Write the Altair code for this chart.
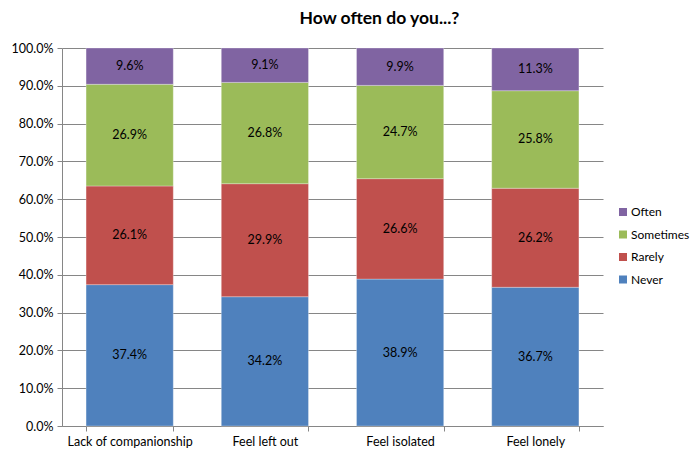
import altair as alt
import pandas as pd

items = ["Lack of companionship", "Feel left out", "Feel isolated", "Feel lonely"]
responses = ["Never", "Rarely", "Sometimes", "Often"]
colors = ["#4F81BD", "#C0504D", "#9BBB59", "#8064A2"]

never = [37.4, 34.2, 38.9, 36.7]
rarely = [26.1, 29.9, 26.6, 26.2]
sometimes = [26.9, 26.8, 24.7, 25.8]
often = [9.6, 9.1, 9.9, 11.3]

series = {"Never": never, "Rarely": rarely, "Sometimes": sometimes, "Often": often}
rows = []
for rank, resp in enumerate(responses):
    for item, val in zip(items, series[resp]):
        rows.append({"item": item, "response": resp, "rank": rank, "value": val})
df = pd.DataFrame(rows)

FONT = "Lato"

base = alt.Chart(df).transform_stack(
    stack="value",
    groupby=["item"],
    sort=[alt.SortField("rank", order="ascending")],
    as_=["y0", "y1"],
    offset="normalize",
).transform_calculate(
    ymid="(datum.y0 + datum.y1) / 2",
    label="format(datum.value, '.1f') + '%'",
)

x_axis = alt.Axis(
    labelAngle=0,
    tickBand="extent",
    tickSize=5,
    tickColor="#868686",
    domainColor="#868686",
    labelFont=FONT,
    labelFontSize=12.5,
    labelColor="#000000",
    labelPadding=4,
    grid=False,
)
y_axis = alt.Axis(
    format=".1%",
    values=[i / 10 for i in range(11)],
    tickSize=5,
    tickColor="#868686",
    domainColor="#868686",
    gridColor="#868686",
    gridWidth=1,
    labelFont=FONT,
    labelFontSize=12.5,
    labelColor="#000000",
    labelPadding=4,
    labelOverlap=False,
)
x_scale = alt.Scale(paddingInner=0.355, paddingOuter=0.178)
y_scale = alt.Scale(domain=[0, 1], nice=False)

bars = base.mark_bar(stroke="#ffffff", strokeWidth=0.6, strokeOpacity=0.5).encode(
    x=alt.X("item:N", sort=items, title=None, scale=x_scale, axis=x_axis),
    y=alt.Y("y0:Q", scale=y_scale, title=None, axis=y_axis),
    y2="y1:Q",
    color=alt.Color(
        "response:N",
        scale=alt.Scale(domain=responses, range=colors),
        sort=["Often", "Sometimes", "Rarely", "Never"],
        legend=alt.Legend(
            title=None,
            orient="none",
            legendX=555,
            legendY=158,
            symbolType="square",
            symbolSize=64,
            symbolStrokeWidth=0,
            labelFont=FONT,
            labelFontSize=12,
            labelColor="#000000",
            rowPadding=10.5,
            labelOffset=2,
            values=["Often", "Sometimes", "Rarely", "Never"],
        ),
    ),
)

texts = base.mark_text(font=FONT, fontSize=12.5, color="#000000").encode(
    x=alt.X("item:N", sort=items, title=None, scale=x_scale, axis=x_axis),
    y=alt.Y("ymid:Q", scale=y_scale, title=None, axis=y_axis),
    text="label:N",
)

chart = (
    alt.layer(bars, texts)
    .properties(
        width=541,
        height=378,
        autosize=alt.AutoSizeParams(type="none"),
        padding={"left": 62, "top": 48, "right": 88, "bottom": 23},
        title=alt.TitleParams(
            "How often do you...?",
            font=FONT,
            fontSize=17.5,
            fontWeight="bold",
            color="#000000",
            anchor="middle",
            offset=15,
            dx=47,
        ),
    )
    .configure_view(stroke=None)
)

chart.save("out.html", embed_options={"renderer": "svg", "actions": False})
